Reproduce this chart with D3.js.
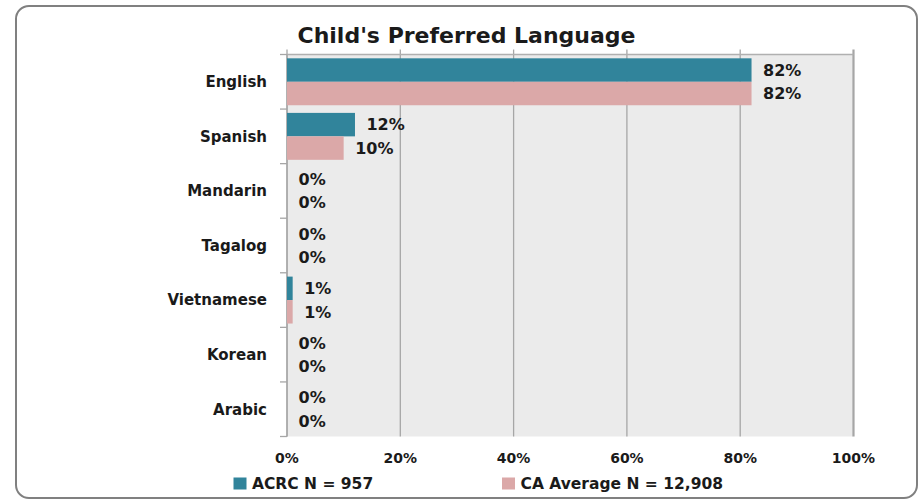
<!DOCTYPE html>
<html>
<head>
<meta charset="utf-8">
<script src="https://cdn.jsdelivr.net/npm/d3@7"></script>
<style>
  body { margin: 0; background: #fff; }
  text { font-family: "DejaVu Sans", sans-serif; font-weight: bold; fill: #1a1a1a; }
</style>
</head>
<body>
<div id="chart"></div>
<script>
// Child's preferred language
const languages = ["English", "Spanish", "Mandarin", "Tagalog", "Vietnamese", "Korean", "Arabic"];
const acrc = [82, 12, 0, 0, 1, 0, 0];
const caAverage = [82, 10, 0, 0, 1, 0, 0];
const seriesNames = ["ACRC N = 957", "CA Average N = 12,908"];
const xTicks = [0, 20, 40, 60, 80, 100];

const W = 921, H = 502;
const margin = { top: 54.5, right: 67.5, bottom: 65.5, left: 287 },
      width = W - margin.left - margin.right,
      height = H - margin.top - margin.bottom;

const colors = ["#31849b", "#dba8a8"];

const root = d3.select("#chart").append("svg")
  .attr("width", W)
  .attr("height", H);

// outer frame
root.append("rect")
  .attr("x", 16).attr("y", 6)
  .attr("width", 901).attr("height", 492)
  .attr("rx", 13)
  .attr("fill", "#fff")
  .attr("stroke", "#808080")
  .attr("stroke-width", 2);

root.append("text")
  .attr("x", 466.5).attr("y", 43)
  .attr("text-anchor", "middle")
  .style("font-size", "22px")
  .text("Child's Preferred Language");

const svg = root.append("g")
  .attr("transform", `translate(${margin.left},${margin.top})`);

const x = d3.scaleLinear().domain([0, 100]).range([0, width]);
const y = d3.scaleBand().domain(languages).range([0, height]).paddingInner(0.14).paddingOuter(0.07);
const sub = d3.scaleBand().domain([0, 1]).range([0, y.bandwidth()]);

// plot background
svg.append("rect")
  .attr("width", width).attr("height", height)
  .attr("fill", "#ebebeb");

// gridlines + top ticks
svg.selectAll(".grid")
  .data(xTicks)
  .join("line")
    .attr("x1", d => x(d)).attr("x2", d => x(d))
    .attr("y1", -5).attr("y2", height)
    .attr("stroke", "#a6a6a6")
    .attr("stroke-width", d => d === 100 ? 2.2 : 1.3);

svg.append("line")
  .attr("x1", 0).attr("x2", width)
  .attr("y1", 0).attr("y2", 0)
  .attr("stroke", "#b0b0b0")
  .attr("stroke-width", 1.3);

// left axis with category-boundary ticks
const step = height / languages.length;
svg.append("line")
  .attr("x1", 0).attr("x2", 0).attr("y1", 0).attr("y2", height)
  .attr("stroke", "#a6a6a6").attr("stroke-width", 1.3);
svg.selectAll(".ytick")
  .data(d3.range(languages.length + 1))
  .join("line")
    .attr("x1", -7).attr("x2", 0)
    .attr("y1", i => i * step).attr("y2", i => i * step)
    .attr("stroke", "#a6a6a6").attr("stroke-width", 1.3);

// category labels
svg.selectAll(".cat")
  .data(languages)
  .join("text")
    .attr("x", -20)
    .attr("y", d => y(d) + y.bandwidth() / 2)
    .attr("dy", "0.36em")
    .attr("text-anchor", "end")
    .style("font-size", "15px")
    .text(d => d);

const rows = languages.map((lang, i) => [
  { lang, s: 0, v: acrc[i] },
  { lang, s: 1, v: caAverage[i] }
]).flat();

svg.selectAll(".bar")
  .data(rows)
  .join("rect")
    .attr("x", 0)
    .attr("y", d => y(d.lang) + sub(d.s))
    .attr("width", d => x(d.v))
    .attr("height", sub.bandwidth())
    .attr("fill", d => colors[d.s]);

svg.selectAll(".val")
  .data(rows)
  .join("text")
    .attr("x", d => x(d.v) + 11.5)
    .attr("y", d => y(d.lang) + sub(d.s) + sub.bandwidth() / 2)
    .attr("dy", "0.36em")
    .style("font-size", "16px")
    .text(d => d.v + "%");

// x tick labels
svg.selectAll(".xlab")
  .data(xTicks)
  .join("text")
    .attr("x", d => x(d))
    .attr("y", height + 26.5)
    .attr("text-anchor", "middle")
    .style("font-size", "14px")
    .text(d => d + "%");

// legend
const legend = root.selectAll(".legend")
  .data(seriesNames)
  .join("g")
    .attr("transform", (d, i) => `translate(${233.5 + i * 268.5}, 477.5)`);

legend.append("rect")
  .attr("width", 13).attr("height", 12)
  .attr("fill", (d, i) => colors[i]);

legend.append("text")
  .attr("x", 18.5).attr("y", 11.5)
  .style("font-size", "15.5px")
  .text(d => d);
</script>
</body>
</html>
